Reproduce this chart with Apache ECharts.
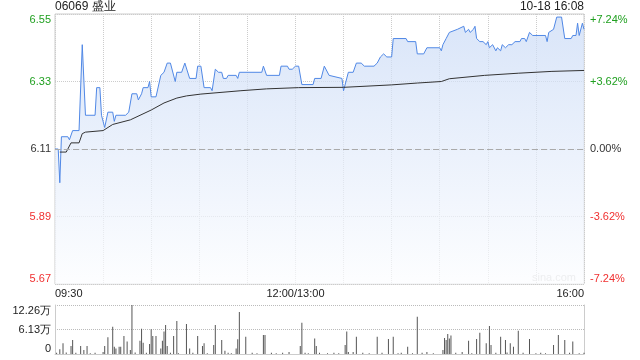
<!DOCTYPE html>
<html><head><meta charset="utf-8">
<script src="https://cdn.jsdelivr.net/npm/echarts@6/dist/echarts.min.js"></script>
<style>html,body{margin:0;padding:0;background:#fff}#c{width:640px;height:360px}</style>
</head><body><div id="c"></div>
<script>
const titleText = '06069 盛业';
const stampText = '10-18 16:08';
const watermark = 'sina.com';
const prevClose = 6.11;

const priceTimes = ['09:30','09:32','09:33','09:34','09:38','09:39','09:41','09:45','09:47','09:48','09:49','09:55','09:56','09:58','09:59','10:00','10:01','10:03','10:06','10:07','10:08','10:14','10:16','10:18','10:21','10:22','10:24','10:25','10:28','10:29','10:30','10:33','10:36','10:38','10:40','10:42','10:45','10:46','10:49','10:51','10:54','10:58','10:59','11:01','11:03','11:07','11:08','11:10','11:12','11:14','11:15','11:17','11:18','11:23','11:24','11:25','11:39','11:40','11:42','11:50','11:51','11:55','11:56','11:58','12:00','13:02','13:04','13:11','13:12','13:16','13:18','13:21','13:29','13:30','13:33','13:36','13:38','13:41','13:43','13:49','13:51','13:53','13:55','13:56','13:57','14:00','14:01','14:09','14:10','14:15','14:16','14:20','14:22','14:30','14:31','14:32','14:33','14:34','14:36','14:41','14:45','14:46','14:48','14:49','14:51','14:52','14:53','14:55','14:57','14:59','15:00','15:01','15:03','15:05','15:06','15:08','15:09','15:11','15:12','15:13','15:15','15:17','15:20','15:21','15:23','15:24','15:26','15:27','15:28','15:36','15:37','15:38','15:39','15:41','15:42','15:43','15:46','15:48','15:52','15:53','15:55','15:56','15:57','15:58','15:59','16:00'];
const priceVals = [6.11,6.11,6.00,6.15,6.15,6.14,6.17,6.17,6.45,6.45,6.22,6.22,6.31,6.31,6.22,6.22,6.18,6.23,6.23,6.20,6.22,6.22,6.23,6.29,6.29,6.27,6.29,6.31,6.31,6.33,6.28,6.28,6.35,6.36,6.39,6.39,6.33,6.36,6.36,6.39,6.34,6.34,6.38,6.38,6.31,6.31,6.30,6.37,6.36,6.36,6.34,6.34,6.35,6.35,6.34,6.36,6.36,6.38,6.35,6.35,6.38,6.38,6.37,6.37,6.38,6.38,6.32,6.32,6.34,6.34,6.38,6.35,6.34,6.30,6.36,6.36,6.39,6.39,6.38,6.38,6.39,6.41,6.42,6.42,6.41,6.41,6.47,6.47,6.46,6.46,6.42,6.42,6.44,6.44,6.43,6.45,6.45,6.47,6.49,6.50,6.51,6.49,6.50,6.49,6.50,6.51,6.47,6.46,6.46,6.45,6.46,6.44,6.45,6.43,6.44,6.43,6.45,6.44,6.44,6.45,6.45,6.46,6.46,6.47,6.47,6.46,6.49,6.49,6.48,6.48,6.46,6.49,6.49,6.50,6.50,6.54,6.54,6.47,6.47,6.48,6.48,6.52,6.48,6.48,6.52,6.50];

const avgTimes = ['09:33','09:37','09:40','09:45','09:47','09:49','10:00','10:06','10:17','10:30','10:38','10:46','10:52','11:01','11:26','11:42','13:02','13:30','14:00','14:16','14:31','14:36','14:58','15:19','15:40','16:00'];
const avgVals = [6.10,6.10,6.13,6.13,6.16,6.165,6.17,6.19,6.205,6.237,6.26,6.276,6.283,6.289,6.30,6.306,6.31,6.311,6.319,6.325,6.33,6.339,6.35,6.357,6.363,6.366];

const volTimes = ['09:31','09:33','09:35','09:37','09:40','09:41','09:43','09:46','09:48','09:50','09:52','09:55','10:00','10:01','10:03','10:06','10:07','10:08','10:10','10:11','10:13','10:15','10:17','10:18','10:20','10:23','10:24','10:25','10:27','10:29','10:30','10:31','10:33','10:36','10:37','10:38','10:39','10:40','10:42','10:44','10:46','10:47','10:52','10:54','10:56','10:59','11:02','11:03','11:05','11:09','11:10','11:14','11:16','11:18','11:20','11:23','11:24','11:25','11:29','11:33','11:36','11:40','11:41','11:45','11:48','11:52','11:56','13:03','13:04','13:06','13:08','13:12','13:13','13:15','13:20','13:24','13:27','13:31','13:32','13:33','13:36','13:38','13:42','13:46','13:51','13:54','13:58','14:01','14:04','14:06','14:10','14:13','14:16','14:19','14:22','14:26','14:32','14:33','14:34','14:35','14:36','14:37','14:40','14:44','14:48','14:50','14:53','14:55','14:59','15:01','15:02','15:05','15:08','15:11','15:12','15:14','15:16','15:19','15:22','15:26','15:30','15:33','15:36','15:41','15:44','15:48','15:51','15:53','15:57','16:00'];
const volVals = [3000,11700,26700,4000,20000,35000,3000,20000,10000,20000,2000,3000,5000,20000,41700,68400,18000,14000,18000,18000,45000,31000,10000,122600,4000,33000,63000,28000,3000,25000,62000,45000,45000,14000,33000,56000,72600,20000,3000,45000,82600,2000,75000,14000,3000,45000,20000,26700,2000,22500,72600,35000,8000,3000,2000,14000,36700,105000,43000,3000,2000,47500,47500,3000,2000,3000,5000,20000,78000,3000,2000,39000,20000,3000,2000,3000,2000,22500,56000,5000,5000,43000,3000,2000,43000,3000,37500,43000,2000,3000,18000,2000,93000,3000,5000,2000,10000,40000,35000,50000,39000,46000,3000,5000,33000,2000,37500,53000,27000,70000,22500,3000,43000,35000,4000,27000,18000,58000,3000,37500,2000,3000,2000,22500,47500,35000,3000,31000,2000,3000];

const priceTicks = ['5.67','5.89','6.11','6.33','6.55'];
const pctTicks = ['-7.24%','-3.62%','0.00%','+3.62%','+7.24%'];
const tickTone = ['r','r','k','g','g'];
const volTicks = ['0','6.13万','12.26万'];
const timeTicks = {0:'09:30',150:'12:00/13:00',330:'16:00'};

function toIdx(t){
  const p = t.split(':').map(Number);
  const mins = p[0]*60 + p[1];
  return mins <= 720 ? mins - 570 : mins - 780 + 150;
}
const FONT = 'Arial, "Liberation Sans", sans-serif';
const rich = {
  r:{color:'#f03030',fontSize:11,fontFamily:FONT},
  g:{color:'#20a020',fontSize:11,fontFamily:FONT},
  k:{color:'#333',fontSize:11,fontFamily:FONT}
};
const pIdx = v => Math.round((v - 5.67) / 0.22);
const vIdx = v => Math.round(v / 61300);

const chart = echarts.init(document.getElementById('c'));
chart.setOption({
  animation:false,
  backgroundColor:'#fff',
  title:[
    {text:titleText,left:55,top:1,padding:0,textStyle:{fontSize:12,fontWeight:'normal',color:'#222',fontFamily:FONT}},
    {text:stampText,right:56,top:1,padding:0,textStyle:{fontSize:12,fontWeight:'normal',color:'#222',fontFamily:FONT}}
  ],
  graphic:[{type:'text',left:532,top:272,style:{text:watermark,fill:'#ccc',font:'11px '+FONT}}],
  grid:[
    {left:55,right:56,top:14,height:270,show:true,borderColor:'#ccc',borderWidth:1,backgroundColor:'transparent'},
    {left:55,right:56,top:305,height:49}
  ],
  xAxis:[
    {type:'value',gridIndex:0,min:0,max:330,interval:30,
     axisLine:{show:false},axisTick:{show:false},
     splitLine:{show:true,lineStyle:{color:'#ccc',type:'dotted',width:1}},
     axisLabel:{show:true,margin:4,color:'#222',fontSize:11,fontFamily:FONT,showMinLabel:true,showMaxLabel:true,
       alignMinLabel:'left',alignMaxLabel:'right',
       formatter:v=>timeTicks[v]||''}},
    {type:'value',gridIndex:1,min:0,max:330,interval:30,
     axisLine:{show:true,lineStyle:{color:'#ccc'}},axisTick:{show:false},
     splitLine:{show:false},axisLabel:{show:false}}
  ],
  yAxis:[
    {type:'value',gridIndex:0,min:5.67,max:6.55,interval:0.22,
     axisLine:{show:false},axisTick:{show:false},
     splitLine:{show:true,lineStyle:{color:'#ccc',type:'dotted',width:1}},
     axisLabel:{margin:4,fontSize:11,fontFamily:FONT,rich:rich,
       verticalAlignMinLabel:'bottom',verticalAlignMaxLabel:'top',
       formatter:v=>{const i=pIdx(v);return '{'+tickTone[i]+'|'+priceTicks[i]+'}';}}},
    {type:'value',gridIndex:0,position:'right',min:5.67,max:6.55,interval:0.22,
     axisLine:{show:false},axisTick:{show:false},splitLine:{show:false},
     axisLabel:{margin:6,fontSize:11,fontFamily:FONT,rich:rich,
       verticalAlignMinLabel:'bottom',verticalAlignMaxLabel:'top',
       formatter:v=>{const i=pIdx(v);return '{'+tickTone[i]+'|'+pctTicks[i]+'}';}}},
    {type:'value',gridIndex:1,min:0,max:122600,interval:61300,
     axisLine:{show:true,lineStyle:{color:'#ccc'}},axisTick:{show:false},
     splitLine:{show:true,lineStyle:{color:'#bbb',type:'dotted',width:1}},
     axisLabel:{margin:4,color:'#222',fontSize:11,fontFamily:FONT,
       verticalAlignMinLabel:'bottom',verticalAlignMaxLabel:'top',
       formatter:v=>volTicks[vIdx(v)]}},
    {type:'value',gridIndex:1,position:'right',min:0,max:122600,interval:61300,
     axisLine:{show:true,lineStyle:{color:'#ccc'}},axisTick:{show:false},
     splitLine:{show:false},axisLabel:{show:false}}
  ],
  series:[
    {type:'line',xAxisIndex:0,yAxisIndex:0,symbol:'none',z:3,
     data:priceTimes.map((t,i)=>[toIdx(t),priceVals[i]]),
     lineStyle:{color:'#5088e6',width:1},
     areaStyle:{color:new echarts.graphic.LinearGradient(0,0,0,1,[{offset:0,color:'#c9daf6'},{offset:1,color:'#fcfdff'}])},
     markLine:{symbol:'none',silent:true,label:{show:false},
       lineStyle:{color:'#aaa',type:[6,3],width:1},data:[{yAxis:prevClose}]}},
    {type:'line',xAxisIndex:0,yAxisIndex:0,symbol:'none',z:4,
     data:avgTimes.map((t,i)=>[toIdx(t),avgVals[i]]),
     lineStyle:{color:'#333',width:1}},
    {type:'bar',xAxisIndex:1,yAxisIndex:2,barWidth:1,
     data:volTimes.map((t,i)=>[toIdx(t),volVals[i]]),
     itemStyle:{color:'#555'}}
  ]
});
</script></body></html>
